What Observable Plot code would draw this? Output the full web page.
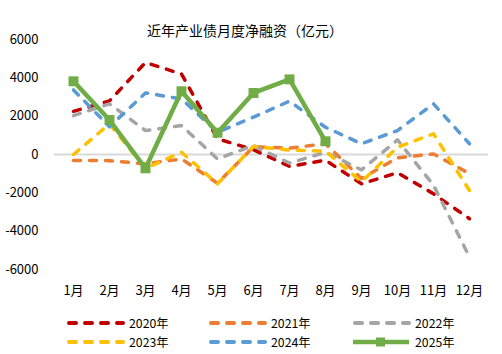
<!DOCTYPE html>
<html>
<head>
<meta charset="utf-8">
<script src="https://cdn.jsdelivr.net/npm/d3@7"></script>
<script src="https://cdn.jsdelivr.net/npm/@observablehq/plot@0.6"></script>
<style>
  body { margin: 0; background: #fff; }
  #wrap { position: relative; width: 502px; height: 354px; font-family: "Noto Sans CJK SC", "Noto Sans", sans-serif; color: #000; }
  #wrap svg.plot { position: absolute; left: 0; top: 0; }
  .title { position: absolute; left: 0; width: 490px; top: 20px; text-align: center; font-size: 14px; line-height: 20px; }
  .leg { position: absolute; height: 16px; line-height: 16px; display: flex; align-items: center; font-size: 12.3px; }
  .leg svg { display: block; margin-right: 4px; }
</style>
</head>
<body>
<div id="wrap">
  <div class="title">近年产业债月度净融资（亿元）</div>
</div>
<script>
const months = ["1月","2月","3月","4月","5月","6月","7月","8月","9月","10月","11月","12月"];
const seriesNames = ["2020年","2021年","2022年","2023年","2024年","2025年"];
const seriesColors = ["#C00000","#ED7D31","#A5A5A5","#FFC000","#5B9BD5","#70AD47"];
const yTicks = [-6000,-4000,-2000,0,2000,4000,6000];

const v2020 = [2250, 2800, 4800, 4200, 820, 250, -620, -300, -1530, -950, -2050, -3350];
const v2021 = [-310, -320, -490, -230, -1500, 400, 330, 560, -1250, -170, 30, -1000];
const v2022 = [2030, 2640, 1250, 1510, -230, 470, -450, 120, -800, 760, -1600, -5350];
const v2023 = [0, 1600, -730, 120, -1530, 420, 230, 170, -1420, 380, 1080, -1880];
const v2024 = [3370, 1450, 3210, 2900, 1160, 1950, 2780, 1420, 560, 1250, 2640, 560];
const v2025 = [3820, 1800, -720, 3300, 1140, 3210, 3920, 690];

const allValues = [v2020, v2021, v2022, v2023, v2024, v2025];
const rows = [];
allValues.forEach((vals, si) => {
  vals.forEach((v, i) => rows.push({series: seriesNames[si], month: months[i], value: v}));
});
const dashed = rows.filter(d => d.series !== "2025年");
const solid = rows.filter(d => d.series === "2025年");

const chart = Plot.plot({
  width: 502,
  height: 354,
  marginTop: 39,
  marginBottom: 85,
  marginLeft: 54,
  marginRight: 14,
  style: {fontFamily: "'Noto Sans CJK SC', 'Noto Sans', sans-serif", fontSize: "13px", color: "#000", background: "transparent"},
  x: {type: "point", domain: months, padding: 0.5, label: null, tickSize: 0, tickPadding: 16},
  y: {domain: [-6000, 6000], ticks: yTicks, tickFormat: d => String(d), label: null, tickSize: 0, tickPadding: 16},
  color: {domain: seriesNames, range: seriesColors},
  marks: [
    Plot.ruleY([0], {stroke: "#D9D9D9", strokeWidth: 2}),
    Plot.line(dashed, {x: "month", y: "value", z: "series", stroke: "series", strokeWidth: 3.5,
      strokeDasharray: "7,9", strokeLinecap: "round", strokeLinejoin: "round"}),
    Plot.line(solid, {x: "month", y: "value", stroke: "series", strokeWidth: 4.5, strokeLinejoin: "round"}),
    Plot.dot(solid, {x: "month", y: "value", fill: "series", symbol: "square", r: 5.6, stroke: "none"})
  ]
});
chart.classList.add("plot");
const wrap = document.getElementById("wrap");
wrap.appendChild(chart);

// legend
const legPos = [[67,315],[209,315],[353,315],[67,333.5],[209,333.5],[353,333.5]];
seriesNames.forEach((name, i) => {
  const d = document.createElement("div");
  d.className = "leg";
  d.style.left = legPos[i][0] + "px";
  d.style.top = legPos[i][1] + "px";
  const c = seriesColors[i];
  let sample;
  if (i < 5) {
    sample = `<svg width="58" height="10"><line x1="2" y1="5" x2="56" y2="5" stroke="${c}" stroke-width="4" stroke-dasharray="7,9" stroke-linecap="round"/></svg>`;
  } else {
    sample = `<svg width="58" height="10"><line x1="0" y1="5" x2="56" y2="5" stroke="${c}" stroke-width="4.5"/><rect x="23" y="0.5" width="9" height="9" fill="${c}"/></svg>`;
  }
  d.innerHTML = sample + `<span>${name}</span>`;
  wrap.appendChild(d);
});
</script>
</body>
</html>
